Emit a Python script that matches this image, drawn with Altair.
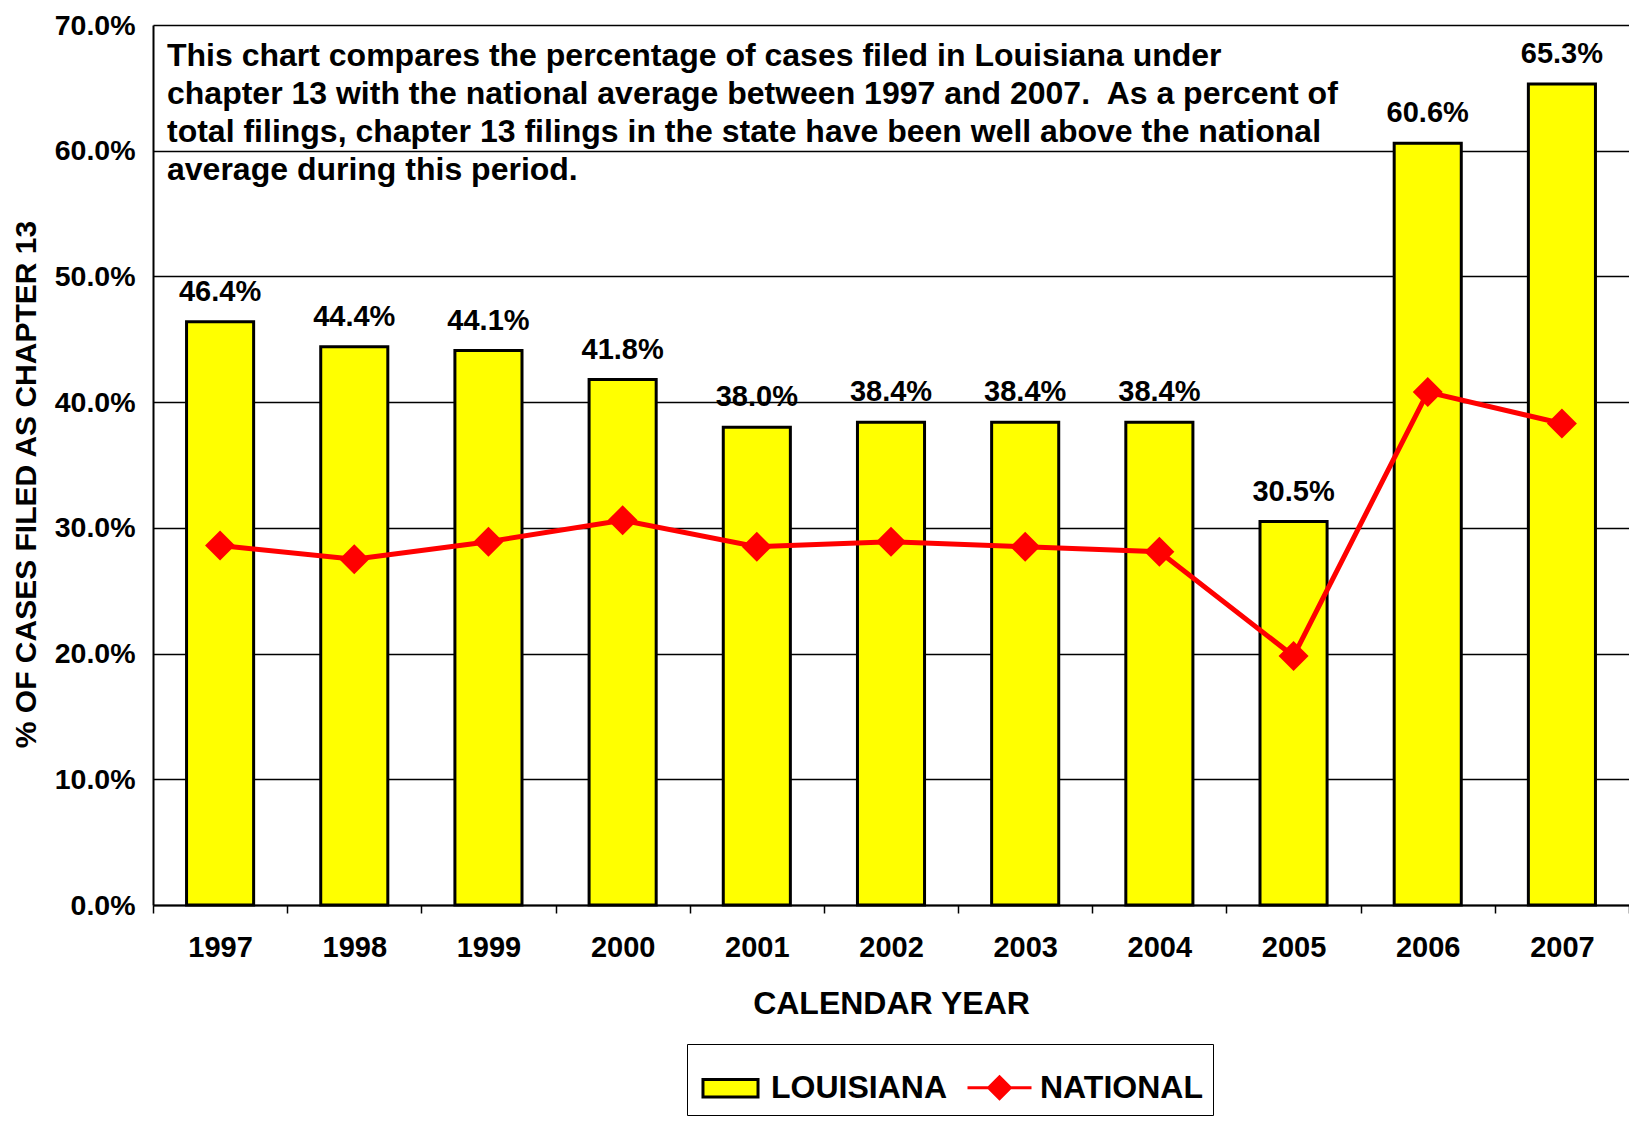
import altair as alt
import pandas as pd

# ---- data ----
years = ["1997", "1998", "1999", "2000", "2001", "2002", "2003", "2004", "2005", "2006", "2007"]
louisiana = [46.4, 44.4, 44.1, 41.8, 38.0, 38.4, 38.4, 38.4, 30.5, 60.6, 65.3]
national = [28.6, 27.5, 28.9, 30.6, 28.5, 28.9, 28.5, 28.1, 19.8, 40.8, 38.3]
y_ticks = [0, 10, 20, 30, 40, 50, 60, 70]
series_names = ["LOUISIANA", "NATIONAL"]
fill_colors = ["#FFFF00", "#FF0000"]
stroke_colors = ["#000000", "#FF0000"]
legend_shapes = [
    "M-0.86,-0.27H0.86V0.27H-0.86Z",
    "M-1,0H1M0,-0.34L0.34,0L0,0.34L-0.34,0Z",
]
note_lines = [
    "This chart compares the percentage of cases filed in Louisiana under",
    "chapter 13 with the national average between 1997 and 2007.\u00a0 As a percent of",
    "total filings, chapter 13 filings in the state have been well above the national",
    "average during this period.",
]

rows = []
for yr, lv, nv in zip(years, louisiana, national):
    rows.append({"year": yr, "series": "LOUISIANA", "pct": lv})
    rows.append({"year": yr, "series": "NATIONAL", "pct": nv})
df = pd.DataFrame(rows)

FONT = "Liberation Sans"

x_enc = alt.X(
    "year:O",
    sort=years,
    scale=alt.Scale(paddingInner=0, paddingOuter=0),
    axis=alt.Axis(
        title="CALENDAR YEAR",
        labelAngle=0,
        tickBand="extent",
        grid=False,
        ticks=True,
        tickSize=8,
        tickWidth=1.5,
        tickColor="black",
        domainColor="black",
        domainWidth=2,
        labelFontSize=29,
        labelPadding=20,
        titleFontSize=32,
        titleY=98,
        titleBaseline="middle",
    ),
)
y_enc = alt.Y(
    "pct:Q",
    scale=alt.Scale(domain=[0, 70], nice=False),
    axis=alt.Axis(
        values=y_ticks,
        labelExpr="format(datum.value, '.1f') + '%'",
        grid=True,
        gridColor="black",
        gridWidth=1.5,
        ticks=False,
        domainColor="black",
        domainWidth=2,
        labelFontSize=28.5,
        labelPadding=18,
        title="% OF CASES FILED AS CHAPTER 13",
        titleFontSize=30,
        titleX=-127,
        titleY=459,
        titleAngle=270,
        titleAlign="center",
        titleBaseline="middle",
    ),
)

legend = alt.Legend(
    title=None,
    orient="none",
    legendX=534,
    legendY=1019,
    direction="horizontal",
    columns=2,
    columnPadding=14,
    labelOffset=7,
    labelFontSize=32,
    labelFont=FONT,
    labelFontWeight="bold",
    labelColor="black",
    labelLimit=400,
    symbolSize=4096,
    symbolStrokeWidth=3,
    padding=10,
    strokeColor="black",
)

fill_scale = alt.Scale(domain=series_names, range=fill_colors)
stroke_scale = alt.Scale(domain=series_names, range=stroke_colors)
shape_scale = alt.Scale(domain=series_names, range=legend_shapes)

base = alt.Chart(df)

bars = base.transform_filter("datum.series == 'LOUISIANA'").mark_bar(
    width=alt.RelativeBandSize(0.5), strokeWidth=3
).encode(
    x=x_enc,
    y=y_enc,
    fill=alt.Fill("series:N", scale=fill_scale, legend=legend),
    stroke=alt.Stroke("series:N", scale=stroke_scale, legend=legend),
)

labels = base.transform_filter("datum.series == 'LOUISIANA'").transform_calculate(
    lab="format(datum.pct, '.1f') + '%'"
).mark_text(
    dy=-21, fontSize=29, fontWeight="bold", font=FONT, color="black", baseline="alphabetic"
).encode(x=x_enc, y=y_enc, text="lab:N")

line = base.transform_filter("datum.series == 'NATIONAL'").mark_line(
    color="#FF0000", strokeWidth=5
).encode(x=x_enc, y=y_enc)

points = base.transform_filter("datum.series == 'NATIONAL'").mark_point(
    shape="diamond", size=900, filled=True, color="#FF0000", opacity=1
).encode(x=x_enc, y=y_enc)

legend_layer = base.transform_filter("datum.series == 'NONE'").mark_point(
    filled=True, size=4096, strokeWidth=3, opacity=1
).encode(
    x=x_enc,
    y=y_enc,
    fill=alt.Fill("series:N", scale=fill_scale, legend=legend),
    stroke=alt.Stroke("series:N", scale=stroke_scale, legend=legend),
    shape=alt.Shape("series:N", scale=shape_scale, legend=legend),
)

note = alt.Chart(pd.DataFrame({"note": ["\n".join(note_lines)]})).mark_text(
    align="left",
    baseline="alphabetic",
    lineBreak="\n",
    lineHeight=38,
    fontSize=32,
    fontWeight="bold",
    font=FONT,
    color="black",
).encode(x=alt.value(14), y=alt.value(41), text="note:N")

chart = (
    alt.layer(bars, labels, line, points, legend_layer, note)
    .properties(
        width=1476,
        height=880,
        padding={"left": 145, "top": 17, "right": 0, "bottom": 211},
        autosize=alt.AutoSizeParams(type="none"),
    )
    .configure_view(stroke=None)
    .configure_axis(
        labelFont=FONT,
        titleFont=FONT,
        labelFontWeight="bold",
        titleFontWeight="bold",
        labelColor="black",
        titleColor="black",
    )
)

chart.save("out.html", embed_options={"renderer": "svg", "actions": False})
